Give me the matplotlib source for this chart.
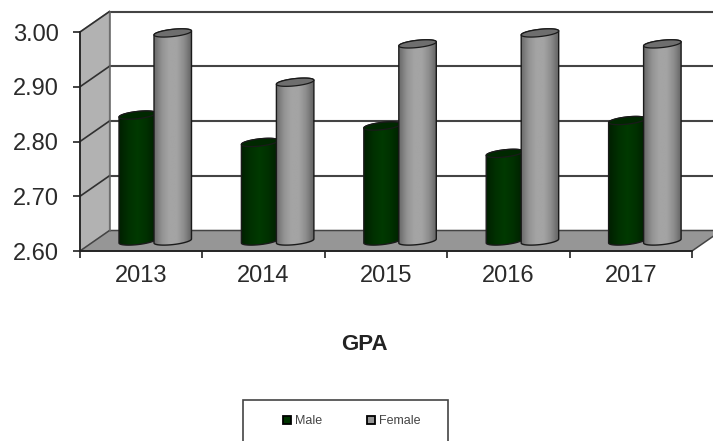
import numpy as np
import matplotlib
matplotlib.use('Agg')
import matplotlib.pyplot as plt
from matplotlib.colors import LinearSegmentedColormap
from matplotlib.lines import Line2D
from matplotlib.patches import Polygon, Rectangle

plt.rcParams['font.family'] = ['Liberation Sans', 'DejaVu Sans']

years = ['2013', '2014', '2015', '2016', '2017']
male = [2.83, 2.78, 2.81, 2.76, 2.82]
female = [2.98, 2.89, 2.96, 2.98, 2.96]
y_ticks = [2.6, 2.7, 2.8, 2.9, 3.0]

W, H = 713, 441
fig = plt.figure(figsize=(W / 100, H / 100), dpi=100)
# axes box in pixels: front face of the fake 3d box
left, right, top, bottom = 80, 692, 32, 251
ax = fig.add_axes([left / W, 1 - bottom / H, (right - left) / W, (bottom - top) / H])

# pixel sizes in data units
px = 5 / (right - left)
py = 0.4 / (bottom - top)
dx, dy = 29.5 * px, 20.5 * py

# walls and floor
ax.add_patch(Polygon([(0, 2.6), (dx, 2.6 + dy), (dx, 3.0 + dy), (0, 3.0)], fc='#b2b2b2', ec='#8a8a8a', lw=1, clip_on=False, zorder=1))
ax.add_patch(Polygon([(0, 2.6), (5, 2.6), (5 + dx, 2.6 + dy), (dx, 2.6 + dy)], fc='#969696', ec='#444444', lw=1.1, clip_on=False, zorder=1))
for v in y_ticks[1:]:
    ax.plot([dx, 5 + dx], [v + dy, v + dy], color='#444444', lw=1.5, clip_on=False, zorder=1.5)
    ax.plot([0, dx], [v, v + dy], color='#303030', lw=1.2, clip_on=False, zorder=1.5)
ax.plot([dx, dx], [2.6 + dy, 3.0 + dy], color='#666666', lw=1.1, clip_on=False, zorder=1.5)


def cylinder(x0, x1, val, cmap, cap, z):
    # bar body with a horizontal shading, clipped to the cylinder outline
    base = 2.6 + 10 * py
    top_y = val + 10 * py
    cx = (x0 + x1) / 2
    a = (x1 - x0) / 2
    b, tilt = 3.6 * py, 2.0 * py
    t = np.linspace(0, np.pi, 40)
    upper = np.c_[cx + a * np.cos(t), top_y + b * np.sin(t) + tilt * np.cos(t)]
    t = np.linspace(np.pi, 2 * np.pi, 40)
    lower = np.c_[cx + a * np.cos(t), base + b * np.sin(t) + tilt * np.cos(t)]
    outline = Polygon(np.r_[upper, lower], closed=True, transform=ax.transData, fc='none', ec='#1a1a1a', lw=1, zorder=z + 0.2, clip_on=False)
    img = ax.imshow(np.linspace(0, 1, 64).reshape(1, -1), extent=(x0, x1, base - 2 * b, top_y + 2 * b),
                    cmap=cmap, aspect='auto', zorder=z, interpolation='bilinear')
    img.set_clip_path(outline)
    ax.add_patch(outline)
    t = np.linspace(0, 2 * np.pi, 80)
    ax.add_patch(Polygon(np.c_[cx + a * np.cos(t), top_y + b * np.sin(t) + tilt * np.cos(t)],
                         fc=cap, ec='#1a1a1a', lw=0.9, zorder=z + 0.3, clip_on=False))


green = LinearSegmentedColormap.from_list('g', ['#002000', '#003000', '#003a00', '#003000', '#002000'])
grey = LinearSegmentedColormap.from_list('k', ['#6a6a6a', '#929292', '#a4a4a4', '#a4a4a4', '#8c8c8c', '#626262'])

for i in range(len(years)):
    start = i + 39 * px
    mid = start + 35 * px
    end = mid + 37.5 * px
    cylinder(start, mid + 2 * px, male[i], green, '#002800', 3 + i * 0.01)
    cylinder(mid, end, female[i], grey, '#6e6e6e', 4 + i * 0.01)

ax.set_xlim(0, 5)
ax.set_ylim(2.6, 3.0)
ax.patch.set_visible(False)
for s in ['top', 'right']:
    ax.spines[s].set_visible(False)
for s in ['left', 'bottom']:
    ax.spines[s].set_color('#222222')
    ax.spines[s].set_linewidth(1.3)
    ax.spines[s].set_zorder(6)

ax.set_yticks(y_ticks)
ax.set_yticklabels(['%.2f' % v for v in y_ticks], fontsize=17, color='#2a2a2a')
ax.tick_params(axis='y', length=5, width=1.2, pad=10, color='#222222')
ax.set_xticks(range(6))
ax.set_xticklabels([])
ax.tick_params(axis='x', which='major', length=5, width=1.2, color='#222222')
ax.set_xticks(np.arange(len(years)) + 0.5, minor=True)
ax.set_xticklabels(years, minor=True, fontsize=17, color='#2a2a2a')
ax.tick_params(axis='x', which='minor', length=0, pad=10)

fig.text(364 / W, 1 - 344 / H, 'GPA', fontsize=16, fontweight='bold', color='#222222', ha='center', va='center')

# legend box runs off the bottom edge of the picture
fig.add_artist(Rectangle((243.5 / W, -0.1), 204.5 / W, 1 - 399.5 / H + 0.1, transform=fig.transFigure, fc='white', ec='#444444', lw=1.2))
handles = [Line2D([], [], ls='', marker='s', ms=6, mfc='#003300', mec='black', mew=1.3),
           Line2D([], [], ls='', marker='s', ms=6, mfc='#969696', mec='black', mew=1.3)]
fig.legend(handles, ['Male', 'Female'], loc='center left', bbox_to_anchor=(274 / W, 1 - 421 / H), ncol=2, frameon=False,
           fontsize=9, labelcolor='#444444', handletextpad=-0.35, columnspacing=2.9, borderpad=0, borderaxespad=0)

fig.savefig('out.png', dpi=100)
